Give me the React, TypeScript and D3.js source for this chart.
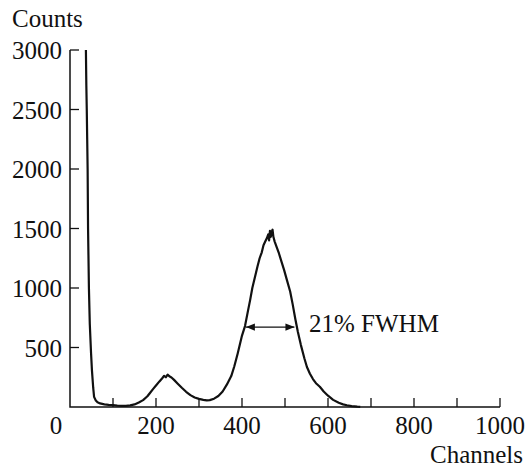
import React from 'react';
import * as d3 from 'd3';

// spectrum: [channel, counts]
const spectrum: [number, number][] = [
  [37, 3000], [38, 2700], [39, 2500], [40, 2250], [41, 2000], [42, 1500], [44, 1000],
  [46, 700], [49, 450], [51, 310], [54, 160], [56, 85], [60, 55], [64, 40],
  [70, 30], [80, 22], [90, 18], [100, 15], [110, 12], [120, 10], [130, 10],
  [140, 14], [150, 22], [160, 38], [170, 58], [180, 90], [186, 118], [193, 150],
  [200, 180], [208, 215], [214, 240], [219, 262], [223, 250], [227, 272], [231, 258],
  [236, 248], [242, 228], [250, 198], [260, 162], [270, 128], [280, 100], [290, 80],
  [300, 68], [310, 60], [318, 55], [325, 58], [335, 70], [345, 92], [355, 130],
  [365, 190], [375, 260], [382, 340], [390, 450], [400, 600], [407, 680], [414, 810],
  [419, 900], [424, 1000], [430, 1090], [436, 1180], [441, 1250], [446, 1300],
  [450, 1360], [454, 1390], [458, 1420], [461, 1450], [463, 1400], [465, 1480],
  [467, 1430], [469, 1470], [471, 1490], [473, 1430], [476, 1390], [480, 1350],
  [486, 1290], [492, 1220], [498, 1150], [505, 1060], [512, 970], [518, 860],
  [524, 740], [530, 630], [537, 520], [545, 410], [551, 336], [558, 280],
  [565, 235], [572, 200], [581, 170], [590, 130], [600, 95], [612, 60],
  [625, 35], [635, 22], [644, 15], [655, 8], [668, 3], [675, 1]
];

const xTicks = [100, 200, 300, 400, 500, 600, 700, 800, 900, 1000];
const xLabels = [200, 400, 600, 800, 1000];
const yTicks = [500, 1000, 1500, 2000, 2500, 3000];

const fwhm = { left: 409, right: 522, level: 672 };

export default function App() {
  const x = d3.scaleLinear().domain([0, 1000]).range([70, 500]);
  const y = d3.scaleLinear().domain([0, 3000]).range([407, 50]);
  const line = d3.line<[number, number]>().x(d => x(d[0])).y(d => y(d[1]));
  const font = '"Liberation Serif", "Times New Roman", serif';
  const fs = 25;

  return (
    <svg width={528} height={468} style={{ position: 'absolute', left: 0, top: 0 }} fontFamily={font}>
      <defs>
        <marker id="ah" viewBox="0 0 10 10" refX="10" refY="5" markerWidth="9" markerHeight="9" orient="auto-start-reverse" markerUnits="userSpaceOnUse">
          <path d="M0,1 L10,5 L0,9 Z" fill="#111" />
        </marker>
      </defs>
      {/* axes */}
      <path d={`M${x(0)},${y(3000)}V${y(0)}H${x(1000)}`} fill="none" stroke="#111" strokeWidth={1.5} />
      {xTicks.map(t => (
        <line key={t} x1={x(t)} x2={x(t)} y1={y(0)} y2={y(0) - 9} stroke="#111" strokeWidth={1.3} />
      ))}
      {yTicks.map(t => (
        <line key={t} x1={x(0)} x2={x(0) + 9} y1={y(t)} y2={y(t)} stroke="#111" strokeWidth={1.3} />
      ))}
      {yTicks.map(t => (
        <text key={t} x={62} y={y(t) + 9} textAnchor="end" fontSize={fs} fill="#111">{t}</text>
      ))}
      <text x={56} y={434} textAnchor="middle" fontSize={fs} fill="#111">0</text>
      {xLabels.map(t => (
        <text key={t} x={x(t)} y={434} textAnchor="middle" fontSize={fs} fill="#111">{t}</text>
      ))}
      <text x={12} y={27} fontSize={fs} fill="#111">Counts</text>
      <text x={523} y={463} textAnchor="end" fontSize={fs} fill="#111">Channels</text>

      {/* spectrum */}
      <path d={line(spectrum) || ''} fill="none" stroke="#111" strokeWidth={2.2} strokeLinejoin="round" />

      {/* FWHM arrow */}
      <line x1={x(fwhm.left)} x2={x(fwhm.right)} y1={y(fwhm.level)} y2={y(fwhm.level)} stroke="#111" strokeWidth={1.3}
        markerStart="url(#ah)" markerEnd="url(#ah)" />
      <text x={309} y={332} fontSize={fs} fill="#111">21% FWHM</text>
    </svg>
  );
}
